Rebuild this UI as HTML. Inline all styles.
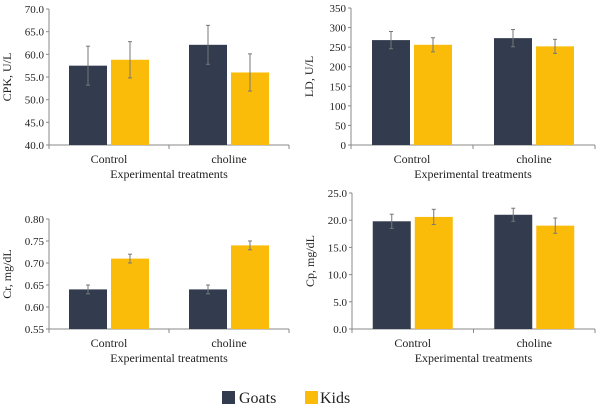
<!DOCTYPE html>
<html><head><meta charset="utf-8"><style>
body{margin:0;background:#fff;width:600px;height:412px;overflow:hidden;font-family:"Liberation Serif","DejaVu Serif",serif}
svg text{font-family:"Liberation Serif","DejaVu Serif",serif;fill:#222}
</style></head><body>
<svg id="s" width="600" height="412" font-family="Liberation Serif, DejaVu Serif, serif"></svg>
<script>
const categories=["Control","choline"];
const cpkGoats=[57.5,62.1], cpkGoatsErr=[4.3,4.3], cpkKids=[58.8,56.0], cpkKidsErr=[4.0,4.1];
const ldGoats=[268,273], ldGoatsErr=[22,22], ldKids=[256,252], ldKidsErr=[18,18];
const crGoats=[0.64,0.64], crGoatsErr=[0.01,0.01], crKids=[0.71,0.74], crKidsErr=[0.01,0.01];
const cpGoats=[19.8,21.0], cpGoatsErr=[1.3,1.2], cpKids=[20.6,19.0], cpKidsErr=[1.4,1.4];
const cpkTicks=["40.0","45.0","50.0","55.0","60.0","65.0","70.0"];
const ldTicks=["0","50","100","150","200","250","300","350"];
const crTicks=["0.55","0.60","0.65","0.70","0.75","0.80"];
const cpTicks=["0.0","5.0","10.0","15.0","20.0","25.0"];
const NS="http://www.w3.org/2000/svg", svg=document.getElementById('s');
const FF="Liberation Serif, DejaVu Serif, serif";
function mk(t,a,p){const e=document.createElementNS(NS,t);for(const k in a)e.setAttribute(k,a[k]);if(t==='text')e.setAttribute('font-family',FF);(p||svg).appendChild(e);return e;}
function chart(name,x0,x1,yTop,yBot,ticks,label,g,ge,k,ke){
  const grp=mk('g',{});
  
  
  const tv=ticks.map(Number),mn=tv[0],mx=tv[tv.length-1];
  const y=v=>yBot-(v-mn)/(mx-mn)*(yBot-yTop);
  const cw=(x1-x0)/categories.length;
  const ax=mk('line',{x1:x0,y1:yTop,x2:x0,y2:yBot,stroke:'#888','stroke-width':1},grp);
  
  const bx=mk('line',{x1:x0,y1:yBot,x2:x1,y2:yBot,stroke:'#888','stroke-width':1},grp);
  
  ticks.forEach((t,i)=>{mk('line',{x1:x0-3,x2:x0,y1:y(tv[i]),y2:y(tv[i]),stroke:'#888'},grp);
    const tx=mk('text',{x:x0-5,y:y(tv[i])+4,'text-anchor':'end','font-size':11},grp);tx.textContent=t;
    });
  for(let i=0;i<=categories.length;i++)mk('line',{x1:x0+cw*i,x2:x0+cw*i,y1:yBot,y2:yBot+4,stroke:'#888'},grp);
  categories.forEach((c,i)=>{
    const cx=x0+cw*(i+0.5),bw=38;
    [[g,ge,'#323c4e',cx-bw-2,'goats'],[k,ke,'#fbbc09',cx+2,'kids']].forEach(([vals,err,col,bxp,s])=>{
      const r=mk('rect',{x:bxp,y:y(vals[i]),width:bw,height:yBot-y(vals[i]),fill:col},grp);
      
      const ex=bxp+bw/2;
      mk('line',{x1:ex,x2:ex,y1:y(vals[i]+err[i]),y2:y(vals[i]-err[i]),stroke:'#777'},grp);
      mk('line',{x1:ex-2,x2:ex+2,y1:y(vals[i]+err[i]),y2:y(vals[i]+err[i]),stroke:'#777'},grp);
      mk('line',{x1:ex-2,x2:ex+2,y1:y(vals[i]-err[i]),y2:y(vals[i]-err[i]),stroke:'#777'},grp);
    });
    const t=mk('text',{x:cx,y:yBot+18,'text-anchor':'middle','font-size':12},grp);t.textContent=c;
    
  });
  const xt=mk('text',{x:(x0+x1)/2,y:yBot+33,'text-anchor':'middle','font-size':12},grp);xt.textContent='Experimental treatments';
  
  const yc=(yTop+yBot)/2,yx=x0-38;
  const yt=mk('text',{x:yx,y:yc,'text-anchor':'middle','font-size':12,transform:`rotate(-90 ${yx} ${yc})`},grp);yt.textContent=label;
  
}
chart('cpk',49,289,9,145,cpkTicks,'CPK, U/L',cpkGoats,cpkGoatsErr,cpkKids,cpkKidsErr);
chart('ld',351,595,8,145,ldTicks,'LD, U/L',ldGoats,ldGoatsErr,ldKids,ldKidsErr);
chart('cr',49,289,219,329,crTicks,'Cr, mg/dL',crGoats,crGoatsErr,crKids,crKidsErr);
chart('cp',352,595,193,329,cpTicks,'Cp, mg/dL',cpGoats,cpGoatsErr,cpKids,cpKidsErr);
const lg=mk('g',{});

mk('rect',{x:222,y:391,width:13,height:13,fill:'#323c4e'},lg);
const l1=mk('text',{x:239,y:403,'font-size':16},lg);l1.textContent='Goats';

mk('rect',{x:305,y:391,width:13,height:13,fill:'#fbbc09'},lg);
const l2=mk('text',{x:320,y:403,'font-size':16},lg);l2.textContent='Kids';

</script>
</body></html>
